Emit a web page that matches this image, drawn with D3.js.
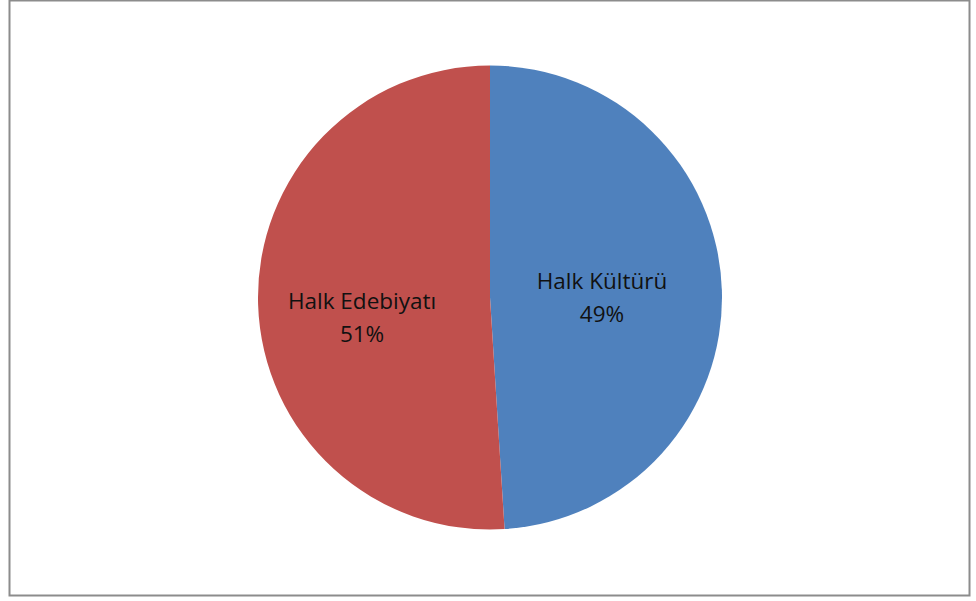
<!DOCTYPE html>
<meta charset="utf-8">
<head>
  <script src="https://d3js.org/d3.v7.min.js"></script>
<style>
body { margin: 0; background: #fff; }
.lbl { font-family: "Open Sans", Lato, sans-serif; font-size: 22.5px; fill: #111; }
</style>
</head>
<body>
<script>

// Chart data
var categories = ["Halk Kültürü", "Halk Edebiyatı"];
var values = [49, 51];
var percentLabels = ["49%", "51%"];
var colors = ["#4F81BD", "#C0504D"];

var width = 976, height = 601;
var cx = 490, cy = 297.5, radius = 232;

// small label nudges (x, y) away from the arc centroid
var nudge = [[-4, -5], [-12, 8]];

var svg = d3.select("body").append("svg")
    .attr("width", width)
    .attr("height", height);

// chart frame
svg.append("rect")
    .attr("x", 9.5).attr("y", 0.5)
    .attr("width", 960).attr("height", 595)
    .attr("fill", "#fff")
    .attr("stroke", "#8c8c8c")
    .attr("stroke-width", 2);

var g = svg.append("g")
    .attr("transform", "translate(" + cx + "," + cy + ")");

var pie = d3.pie().sort(null).value(function(d) { return d; });
var arcs = pie(values);

var arc = d3.arc().innerRadius(0).outerRadius(radius);
var labelArc = d3.arc().innerRadius(radius * 0.5).outerRadius(radius * 0.5);

g.selectAll("path")
    .data(arcs)
    .enter().append("path")
    .attr("d", arc)
    .attr("fill", function(d, i) { return colors[i]; });

// labels
var lbl = g.selectAll("text")
    .data(arcs)
    .enter().append("text")
    .attr("class", "lbl")
    .attr("text-anchor", "middle")
    .attr("transform", function(d, i) {
      var c = labelArc.centroid(d);
      return "translate(" + (c[0] + nudge[i][0]) + "," + (c[1] + nudge[i][1]) + ")";
    });

lbl.append("tspan")
    .attr("x", 0).attr("dy", 0)
    .text(function(d, i) { return categories[i]; });
lbl.append("tspan")
    .attr("x", 0).attr("dy", 33)
    .text(function(d, i) { return percentLabels[i]; });

</script>
</body>
